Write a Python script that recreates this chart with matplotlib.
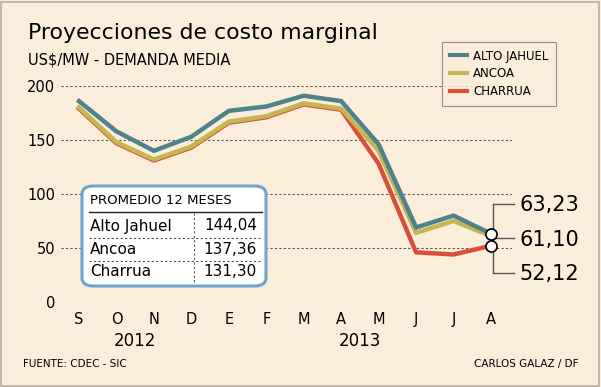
import matplotlib.pyplot as plt
from matplotlib.patches import FancyBboxPatch, Rectangle
from matplotlib.lines import Line2D

months = ["S", "O", "N", "D", "E", "F", "M", "A", "M", "J", "J", "A"]
years = ["2012", "2013"]
alto_jahuel = [186, 158, 140, 153, 177, 181, 191, 186, 146, 69, 80, 63.23]
ancoa = [180, 148, 132, 144, 167, 172, 184, 179, 140, 64, 75, 61.10]
charrua = [179, 147, 131, 143, 166, 171, 183, 178, 128, 46, 44, 52.12]
promedios = [("Alto Jahuel", "144,04"), ("Ancoa", "137,36"), ("Charrua", "131,30")]
end_labels = ["63,23", "61,10", "52,12"]

BG = "#faeedb"
C_AJ = "#4f8189"
C_AN = "#c5b553"
C_CH = "#d8503a"

W, H = 601, 387
fig = plt.figure(figsize=(W / 100, H / 100), dpi=100, facecolor=BG)
fig.patches.append(Rectangle((1 / W, 1 / H), 1 - 3 / W, 1 - 3 / H, transform=fig.transFigure,
                             fill=False, edgecolor="#b8aea0", linewidth=1.2))


def fx(px):
    return px / W


def fy(py):
    return 1 - py / H


ax = fig.add_axes([fx(61), fy(302), (512 - 61) / W, (302 - 86) / H])
ax.set_facecolor(BG)
x = list(range(len(months)))
ax.plot(x, ancoa, color=C_AN, lw=3.2, clip_on=False, zorder=3, label="ANCOA")
ax.plot(x, charrua, color=C_CH, lw=3.2, clip_on=False, zorder=2, label="CHARRUA")
ax.plot(x, alto_jahuel, color=C_AJ, lw=3.2, clip_on=False, zorder=4, label="ALTO JAHUEL")
ax.set_xlim(-0.48, 11.56)
ax.set_ylim(0, 200)
for v in range(0, 201, 50):
    ax.axhline(v, color="#555555", lw=0.8, ls=(0, (2, 2)), zorder=1)
ax.set_yticks(range(0, 201, 50))
ax.set_xticks(x)
ax.set_xticklabels(months)
ax.tick_params(length=0, labelsize=10.5, pad=7)
ax.tick_params(axis="y", pad=4)
for s in ax.spines.values():
    s.set_visible(False)

# years
ax.text(1.5, -0.14, years[0], transform=ax.get_xaxis_transform(), ha="center", va="top", fontsize=12)
ax.text(7.5, -0.14, years[1], transform=ax.get_xaxis_transform(), ha="center", va="top", fontsize=12)

# end markers and bracket
last = len(months) - 1
ax.plot([last], [alto_jahuel[-1]], "o", ms=8, mfc="white", mec="black", mew=1.2, zorder=6, clip_on=False)
ax.plot([last], [charrua[-1]], "o", ms=8, mfc="white", mec="black", mew=1.2, zorder=6, clip_on=False)
bx = last + 0.04
ax.plot([bx, bx], [91, 27], color="#555555", lw=1, clip_on=False, zorder=5)
for yv, lab in zip([91, 59, 27], end_labels):
    ax.plot([bx, bx + 0.57], [yv, yv], color="#555555", lw=1, clip_on=False, zorder=5)
    ax.text(bx + 0.72, yv - 1.5, lab, ha="left", va="center", fontsize=15, clip_on=False)

# legend
handles = [Line2D([], [], color=c, lw=3.0) for c in (C_AJ, C_AN, C_CH)]
leg = fig.legend(handles, ["ALTO JAHUEL", "ANCOA", "CHARRUA"], loc="upper left",
                 bbox_to_anchor=(fx(436), fy(36)), frameon=True, fancybox=False,
                 facecolor=BG, edgecolor="#777777", fontsize=8.5,
                 handlelength=1.5, handletextpad=0.5, labelspacing=0.4, borderpad=0.65)
leg.get_frame().set_linewidth(0.8)

# table box
box = FancyBboxPatch((fx(82), fy(286)), (266 - 82) / W, (286 - 186) / H,
                     boxstyle="round,pad=0,rounding_size=0.02", transform=fig.transFigure,
                     facecolor="white", edgecolor="#6ea3cf", linewidth=2.2, zorder=10)
fig.patches.append(box)
fig.text(fx(90), fy(201), "PROMEDIO 12 MESES", fontsize=9.5, va="center", ha="left", zorder=11)
fig.add_artist(Line2D([fx(89), fx(262)], [fy(212), fy(212)], color="#222222", lw=1, zorder=11))
rows_y = [226, 249, 272]
for i, ((name, val), ry) in enumerate(zip(promedios, rows_y)):
    fig.text(fx(90), fy(ry), name, fontsize=11, va="center", ha="left", zorder=11)
    fig.text(fx(257), fy(ry), val, fontsize=11, va="center", ha="right", zorder=11)
    if i < len(promedios) - 1:
        fig.add_artist(Line2D([fx(89), fx(262)], [fy(ry + 11.5), fy(ry + 11.5)], color="#555555",
                              lw=0.8, ls=(0, (2, 2)), zorder=11))
fig.add_artist(Line2D([fx(194), fx(194)], [fy(213), fy(283)], color="#555555", lw=0.8,
                      ls=(0, (2, 2)), zorder=11))

fig.text(fx(28), fy(33), "Proyecciones de costo marginal", fontsize=15.8, va="center", ha="left")
fig.text(fx(28), fy(60), "US$/MW - DEMANDA MEDIA", fontsize=10.5, va="center", ha="left")
fig.text(fx(23), fy(364), "FUENTE: CDEC - SIC", fontsize=7.5, va="center", ha="left")
fig.text(fx(578), fy(364), "CARLOS GALAZ / DF", fontsize=7.5, va="center", ha="right")

fig.savefig("out.png", dpi=100, facecolor=BG)
